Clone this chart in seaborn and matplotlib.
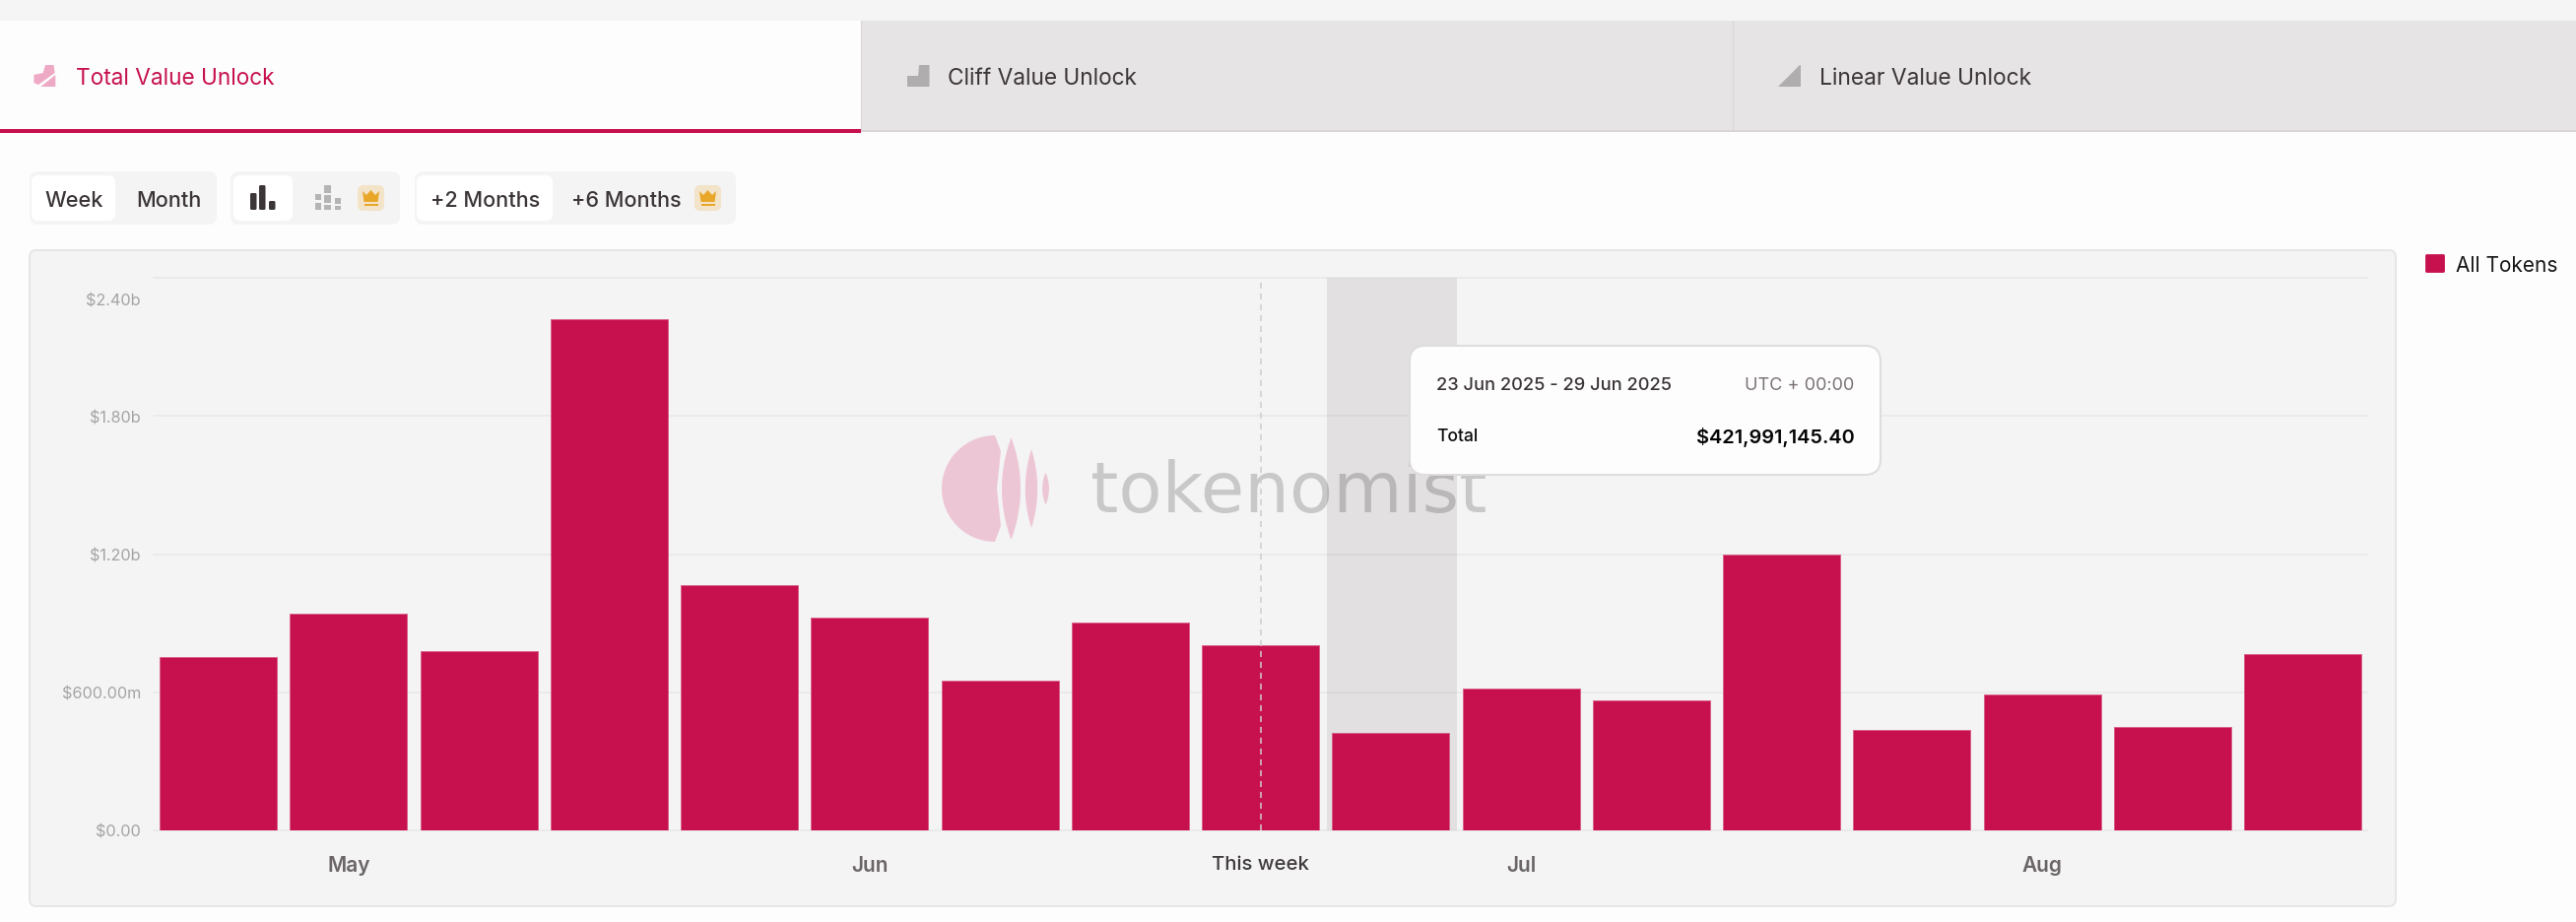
# Tokenomist weekly unlock value, bar chart with the page chrome around it
import numpy as np
import pandas as pd
import matplotlib.pyplot as plt
import seaborn as sns
from matplotlib.patches import FancyBboxPatch, Polygon, Rectangle
from matplotlib.transforms import ScaledTranslation

# --- data ---
week_starts = ["21 Apr", "28 Apr", "5 May", "12 May", "19 May", "26 May", "2 Jun", "9 Jun", "16 Jun",
               "23 Jun", "30 Jun", "7 Jul", "14 Jul", "21 Jul", "28 Jul", "4 Aug", "11 Aug"]
unlock_value = [753e6, 941.5e6, 779e6, 2221e6, 1066e6, 924e6, 650.5e6, 903e6, 803e6,
                421991145.40, 617.6e6, 566e6, 1199.6e6, 435e6, 589e6, 448e6, 766e6]
series_name = "All Tokens"

y_ticks = [0, 600e6, 1200e6, 1800e6, 2400e6]
y_labels = ["$0.00", "$600.00m", "$1.20b", "$1.80b", "$2.40b"]
x_tick_weeks = ["28 Apr", "26 May", "16 Jun", "30 Jun", "28 Jul"]
x_tick_labels = ["May", "Jun", "This week", "Jul", "Aug"]
this_week = "16 Jun"
hover_week = "23 Jun"
hover_range = "23 Jun 2025 - 29 Jun 2025"

tab_labels = ["Total Value Unlock", "Cliff Value Unlock", "Linear Value Unlock"]

# --- colours ---
RED = "#c7114f"
PAGE = "#fdfdfd"
PANEL = "#f4f4f4"
DARK = "#3c3537"

W, H = 2615, 937
sns.set_theme(style="white")
plt.rcParams["font.family"] = ["Inter", "DejaVu Sans"]

df = pd.DataFrame({"week": week_starts, "value": unlock_value})

fig = plt.figure(figsize=(W / 100, H / 100), dpi=100, facecolor=PAGE)

# full figure layer in pixel coordinates for the page furniture
page = fig.add_axes([0, 0, 1, 1], zorder=0)
page.set_xlim(0, W)
page.set_ylim(H, 0)
page.axis("off")


def box(layer, x0, y0, x1, y1, color, r=0, edge="none", lw=0, z=1):
    if r == 0:
        p = Rectangle((x0, y0), x1 - x0, y1 - y0, fc=color, ec=edge, lw=lw, zorder=z)
    else:
        p = FancyBboxPatch((x0 + r, y0 + r), x1 - x0 - 2 * r, y1 - y0 - 2 * r,
                           boxstyle=f"round,pad={r},rounding_size={r}",
                           fc=color, ec=edge, lw=lw, zorder=z)
    layer.add_patch(p)


def label(layer, x, y, s, size, color=DARK, ha="left", weight="normal", z=3):
    return layer.text(x, y, s, fontsize=size, color=color, ha=ha, va="center_baseline",
                      fontweight=weight, zorder=z)


# tabs
box(page, 0, 0, W, 22, "#f5f5f5")
box(page, 874, 22, W, 134, "#e6e4e5")
page.plot([874, W], [134, 134], color="#d9d5d7", lw=1.4)
page.plot([874, 874], [22, 134], color="#d9d5d7", lw=0.8)
page.plot([1759, 1759], [22, 134], color="#d9d7d8", lw=0.8)
box(page, 0, 132, 874, 135.5, RED, z=2)
label(page, 77, 78, tab_labels[0], 16.3, RED)
label(page, 962, 78, tab_labels[1], 16.3)
label(page, 1847, 78, tab_labels[2], 16.4)

# tab icons
page.add_patch(Polygon([(34.4, 77), (43.6, 75), (46, 67), (54.5, 67), (55.7, 75), (39, 87), (34.4, 85)],
                       fc="#eeaac4", lw=0))
page.add_patch(Polygon([(41.3, 89), (56.3, 77), (56.3, 89)], fc="#eeaac4", lw=0))
page.add_patch(Polygon([(921, 89), (921, 78), (932, 78), (933, 67), (943.5, 67), (943.5, 89)],
                       fc="#b0adaf", lw=0))
page.add_patch(Polygon([(1805, 89), (1827, 67), (1828, 67), (1828, 89)], fc="#b0adaf", lw=0))

# button groups
for x0, x1 in [(30, 220), (234, 406), (421, 747)]:
    box(page, x0, 175, x1, 229, "#f4f4f4", r=9)
for x0, x1 in [(32, 117), (237, 297), (423, 561)]:
    box(page, x0, 179, x1, 225, "#ffffff", r=7, z=2)
label(page, 75, 202, "Week", 15.6, ha="center", weight="medium")
label(page, 171, 202, "Month", 15.6, ha="center", weight="medium")
label(page, 492.5, 202, "+2 Months", 15.6, ha="center", weight="medium")
label(page, 636, 202, "+6 Months", 15.6, ha="center", weight="medium")

# bar icon, plain and stacked
for x0, x1, top in [(254, 260.5, 197), (263, 269.5, 189), (273, 279.5, 205)]:
    box(page, x0, top, x1, 214, DARK, r=1.5, z=3)
for x0, x1, y0, y1 in [(320, 326, 198, 204), (320, 326, 207, 214), (329, 336, 189, 197), (329, 336, 199, 207),
                       (329, 336, 209, 214), (340, 346, 202, 208), (340, 346, 210, 214)]:
    box(page, x0, y0, x1, y1, "#b5b3b4", z=3)

# crowns
for cx in [376.5, 718.5]:
    box(page, cx - 13.5, 189, cx + 13.5, 215, "#f3e3c8", r=6, z=2)
    page.add_patch(Polygon([(cx - 8.5, 195), (cx - 4.5, 199), (cx, 194), (cx + 4.5, 199), (cx + 8.5, 195),
                            (cx + 7, 206), (cx - 7, 206)], fc="#e9a72a", lw=0, zorder=3))
    box(page, cx - 7, 208, cx + 7, 209.6, "#e9a72a", z=3)

# chart panel
box(page, 30, 255, 2432, 921, PANEL, r=7, edge="#e6e6e6", lw=1.4)

# --- the chart itself ---
ax = fig.add_axes([155.58 / W, 1 - 844 / H, (2403.7 - 155.58) / W, (844 - 283) / H], zorder=1)
ax.patch.set_alpha(0)
sns.barplot(data=df, x="week", y="value", color=RED, saturation=1, width=0.9,
            edgecolor="#d9618a", linewidth=0.7, label=series_name, ax=ax)
positions = {w: i for i, w in enumerate(week_starts)}
ax.set_xlim(-0.5, len(week_starts) - 0.5)
ax.set_ylim(y_ticks[0], y_ticks[-1])
ax.set_xlabel("")
ax.set_ylabel("")
sns.despine(ax=ax, left=True, bottom=True)

ax.set_yticks(y_ticks, y_labels)
ax.tick_params(axis="y", length=0, pad=9, labelsize=11.7, labelcolor="#a4a4a4")
ax.set_xticks([positions[w] for w in x_tick_weeks], x_tick_labels)
ax.tick_params(axis="x", length=0, pad=18, labelsize=15, labelcolor="#6b6567")
for tick, name in zip(ax.get_xticklabels(), x_tick_labels):
    tick.set_fontweight("semibold")
    if name == "This week":
        tick.set_color("#3f3a3c")
        tick.set_fontsize(14.6)
        tick.set_fontweight("medium")

# the top y label is pushed down inside the plot on the original
top_tick = ax.get_yticklabels()[-1]
top_tick.set_transform(top_tick.get_transform() + ScaledTranslation(0, -0.21, fig.dpi_scale_trans))

ax.set_axisbelow(True)
ax.grid(axis="y", color="black", alpha=0.05, lw=1.1)
for line in ax.get_ygridlines():
    line.set_clip_on(False)

# hovered week band and this week marker
hover = positions[hover_week]
ax.axvspan(hover - 0.5 + 0.01, hover + 0.5 + 0.01, color="#e2e0e1", lw=0, zorder=0.4)
ax.axvline(positions[this_week], color="#cfcdce", lw=1.1, dashes=(4, 3.2), zorder=3)

# watermark, sits above the band
mark = page.transData
ax.text(1107, 520.5, "tokenomist", transform=mark, fontsize=52, color="black", alpha=0.18,
        family="DejaVu Sans", ha="left", va="baseline", zorder=0.6)
t = np.linspace(np.pi / 2, 3 * np.pi / 2, 40)
blob = np.column_stack([1010 + 54 * np.cos(t), 497 + 54 * np.sin(t)])
blob = np.vstack([blob, [(1010, 551), (1016, 535), (1012, 497), (1016, 459), (1010, 443)]])
ax.add_patch(Polygon(blob, transform=mark, fc="#edc6d6", lw=0, zorder=0.6, clip_on=False))
s = np.linspace(-1, 1, 40)
for cx, half_w, half_h in [(1026.5, 9.5, 52), (1047, 6.2, 40), (1061.5, 3.4, 16.5)]:
    right = np.column_stack([cx + half_w * (1 - s ** 2), 497 + half_h * s])
    left = np.column_stack([cx - half_w * (1 - s ** 2), 497 + half_h * s])[::-1]
    ax.add_patch(Polygon(np.vstack([right, left]), transform=mark, fc="#edc6d6", lw=0, zorder=0.6, clip_on=False))

# legend
handles, names = ax.get_legend_handles_labels()
leg = ax.legend(handles[:1], names[:1], loc="center left", bbox_to_anchor=(2463 / W, 1 - 269.5 / H),
                bbox_transform=fig.transFigure, frameon=False, fontsize=15, handlelength=0.82,
                handleheight=0.82, handletextpad=0.62, borderpad=0, borderaxespad=0, labelcolor="#17171a")
leg.get_patches()[0].set(edgecolor=RED, linewidth=2, joinstyle="round")

# tooltip on top of everything
over = fig.add_axes([0, 0, 1, 1], zorder=2)
over.set_xlim(0, W)
over.set_ylim(H, 0)
over.axis("off")
box(over, 1431, 352, 1909, 483, "#fdfdfd", r=16, edge="#dedcdd", lw=1.4)
label(over, 1458, 390, hover_range, 13.1, "#3a3436", weight="medium")
label(over, 1882, 390, "UTC + 00:00", 13.0, "#7a7274", ha="right")
label(over, 1458, 442, "Total", 12.6, "#0d0d0d", weight="medium")
label(over, 1883, 442, f"${unlock_value[hover]:,.2f}", 14.4, "#050505", ha="right", weight="semibold")

fig.savefig("out.png", dpi=100, facecolor=PAGE)
